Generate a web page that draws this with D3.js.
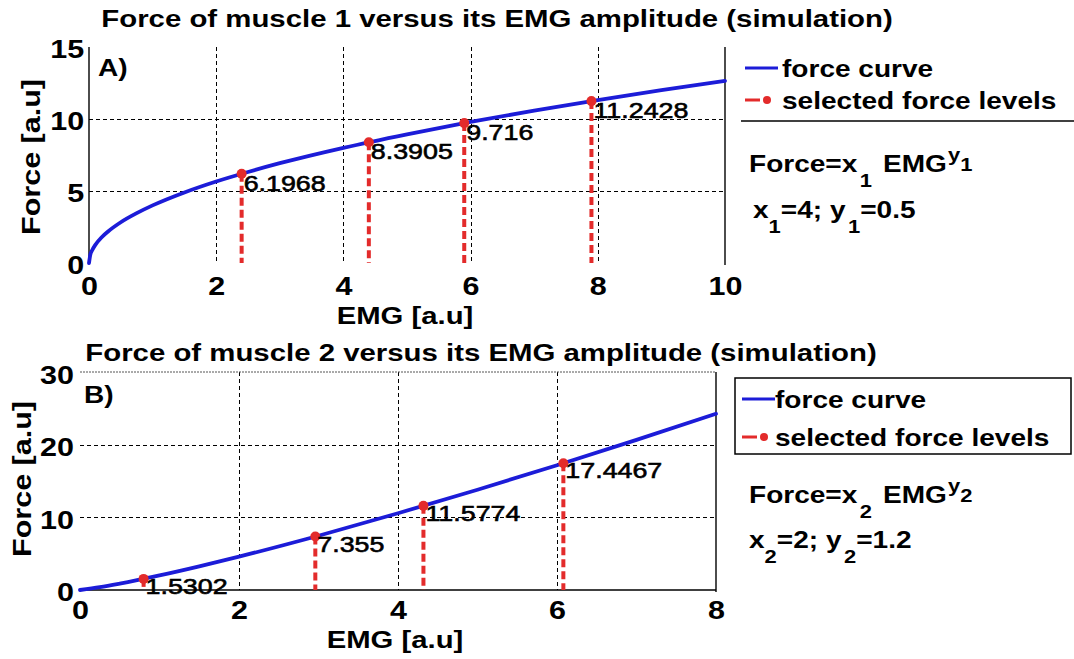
<!DOCTYPE html>
<html><head><meta charset="utf-8">
<script src="https://cdn.jsdelivr.net/npm/d3@7"></script>
<style>
html,body{margin:0;padding:0;background:#fff;}
svg{display:block;font-family:Arial,"Liberation Sans",Helvetica,sans-serif;}
</style></head>
<body>
<svg id="chart" width="1074" height="659"></svg>
<script>
// ---------------- DATA ----------------
// Panel A: muscle 1 (Force = 4 * EMG^0.5)
const emg1 = [0, 0.02, 0.05, 0.1, 0.2, 0.3, 0.5, 0.75, 1, 1.5, 2, 2.5, 3, 4, 5, 6, 7, 8, 9, 10];
const force1 = [0, 0.57, 0.89, 1.26, 1.79, 2.19, 2.83, 3.46, 4.0, 4.9, 5.66, 6.32, 6.93, 8.0, 8.94, 9.8, 10.58, 11.31, 12.0, 12.65];
const selEmg1 = [2.4, 4.4, 5.9, 7.9];
const selForce1 = [6.1968, 8.3905, 9.716, 11.2428];
const selLabels1 = ["6.1968", "8.3905", "9.716", "11.2428"];
const xTicks1 = [0, 2, 4, 6, 8, 10];
const yTicks1 = [0, 5, 10, 15];

// Panel B: muscle 2 (Force = 2 * EMG^1.2)
const emg2 = [0, 0.25, 0.5, 1, 1.5, 2, 3, 4, 5, 6, 7, 8];
const force2 = [0, 0.38, 0.87, 2.0, 3.25, 4.59, 7.47, 10.56, 13.8, 17.17, 20.66, 24.25];
const selEmg2 = [0.8, 2.96, 4.32, 6.08];
const selForce2 = [1.5302, 7.355, 11.5774, 17.4467];
const selLabels2 = ["1.5302", "7.355", "11.5774", "17.4467"];
const xTicks2 = [0, 2, 4, 6, 8];
const yTicks2 = [0, 10, 20, 30];

const titles = ["Force of muscle 1 versus its EMG amplitude (simulation)",
                "Force of muscle 2 versus its EMG amplitude (simulation)"];
const legendLabels = ["force curve", "selected force levels"];

// ---------------- STYLE ----------------
const SX = 1.22;           // horizontal stretch of the reference text
const BLUE = "#1c1cd8", RED = "#e32b2b";
const svg = d3.select("#chart");

function txt(g, x, y, s, o = {}) {
  const t = g.append("text")
    .attr("transform", `translate(${x},${y}) ${o.rot ? "rotate(" + o.rot + ")" : ""} scale(${o.sx || SX},1)`)
    .attr("text-anchor", o.anchor || "start")
    .attr("font-size", o.size || 23)
    .attr("font-weight", o.weight || "bold")
    .attr("fill", "#000")
    .text(s);
  return t;
}

function panel(cfg) {
  const g = svg.append("g");
  const x = d3.scaleLinear().domain(cfg.xDomain).range([cfg.left, cfg.right]);
  const y = d3.scaleLinear().domain(cfg.yDomain).range([cfg.bottom, cfg.top]);

  // grid
  g.selectAll(".vg").data(cfg.xTicks.slice(1, -1)).join("line")
    .attr("x1", d => Math.round(x(d)) + 0.5).attr("x2", d => Math.round(x(d)) + 0.5)
    .attr("y1", cfg.top).attr("y2", cfg.bottom)
    .attr("stroke", "#000").attr("stroke-width", 1).attr("stroke-dasharray", "4,3");
  g.selectAll(".hg").data(cfg.yTicks.slice(1, -1)).join("line")
    .attr("x1", cfg.left).attr("x2", cfg.right)
    .attr("y1", d => Math.round(y(d)) + 0.5).attr("y2", d => Math.round(y(d)) + 0.5)
    .attr("stroke", "#000").attr("stroke-width", 1).attr("stroke-dasharray", "4,3");

  // frame lines
  cfg.frame.forEach(f => {
    const l = g.append("line").attr("stroke", f.color || "#000").attr("stroke-width", f.w || 1.4);
    if (f.side === "left") l.attr("x1", cfg.left).attr("x2", cfg.left).attr("y1", cfg.top).attr("y2", cfg.bottom);
    if (f.side === "right") l.attr("x1", cfg.right).attr("x2", cfg.right).attr("y1", cfg.top).attr("y2", cfg.bottom + 2);
    if (f.side === "bottom") l.attr("x1", cfg.left).attr("x2", cfg.right).attr("y1", cfg.bottom).attr("y2", cfg.bottom);
    if (f.side === "top") l.attr("x1", cfg.left).attr("x2", cfg.right).attr("y1", cfg.top).attr("y2", cfg.top);
    if (f.dash) l.attr("stroke-dasharray", f.dash);
  });

  // axes (labels only)
  const ax = g.append("g").attr("transform", `translate(0,${cfg.bottom})`)
    .call(d3.axisBottom(x).tickValues(cfg.xTicks).tickSize(0).tickPadding(cfg.xPad).tickFormat(d3.format("d")));
  ax.select(".domain").remove();
  ax.selectAll("text").attr("font-size", 25).attr("font-weight", "bold").attr("fill", "#000")
    .attr("font-family", "Arial, 'Liberation Sans', sans-serif")
    .attr("transform", `scale(${SX},1)`);
  const ay = g.append("g").attr("transform", `translate(${cfg.left},0)`)
    .call(d3.axisLeft(y).tickValues(cfg.yTicks).tickSize(0).tickPadding(cfg.yPad).tickFormat(d3.format("d")));
  ay.select(".domain").remove();
  ay.selectAll("text").attr("font-size", 25).attr("font-weight", "bold").attr("fill", "#000")
    .attr("font-family", "Arial, 'Liberation Sans', sans-serif")
    .attr("transform", `translate(0,${cfg.yLabShift}) scale(${SX},1)`);
  ay.selectAll(".tick").filter(d => d === 0).select("text")
    .attr("transform", `translate(0,${cfg.yZeroShift}) scale(${SX},1)`);

  // curve
  const line = d3.line().x((d, i) => x(cfg.emg[i])).y(d => y(d)).curve(d3.curveMonotoneX);
  g.append("path").datum(cfg.force).attr("d", line)
    .attr("fill", "none").attr("stroke", BLUE).attr("stroke-width", 3.8)
    .attr("stroke-linejoin", "round").attr("stroke-linecap", "round");

  // stems
  g.selectAll(".stem").data(cfg.selForce).join("line")
    .attr("x1", (d, i) => x(cfg.selEmg[i])).attr("x2", (d, i) => x(cfg.selEmg[i]))
    .attr("y1", d => y(d)).attr("y2", y(0))
    .attr("stroke", RED).attr("stroke-width", 4).attr("stroke-dasharray", "8,4");
  g.selectAll(".dot").data(cfg.selForce).join("circle")
    .attr("cx", (d, i) => x(cfg.selEmg[i])).attr("cy", d => y(d)).attr("r", 5)
    .attr("fill", RED);
  cfg.selLabels.forEach((s, i) => {
    txt(g, x(cfg.selEmg[i]) + 2, y(cfg.selForce[i]) + cfg.labDy, s, {size: 22, weight: "normal"})
      .attr("stroke", "#000").attr("stroke-width", 0.6);
  });

  // titles and labels
  txt(g, cfg.titleX, cfg.titleY, cfg.title, {anchor: "middle", size: 23.5, sx: 1.25});
  txt(g, cfg.tagX, cfg.tagY, cfg.tag, {size: 23});
  txt(g, cfg.xLabX, cfg.xLabY, "EMG [a.u]", {anchor: "middle", size: 24});
  txt(g, cfg.yLabX, cfg.yLabY, "Force [a.u]", {anchor: "middle", size: 25, rot: -90});

  // legend
  const lg = g.append("g");
  if (cfg.legendBox) {
    lg.append("rect").attr("x", cfg.legendBox[0]).attr("y", cfg.legendBox[1])
      .attr("width", cfg.legendBox[2]).attr("height", cfg.legendBox[3])
      .attr("fill", "#fff").attr("stroke", "#000").attr("stroke-width", 1.5);
  }
  if (cfg.legendRule) {
    lg.append("line").attr("x1", cfg.legendRule[0]).attr("x2", cfg.legendRule[1])
      .attr("y1", cfg.legendRule[2]).attr("y2", cfg.legendRule[2])
      .attr("stroke", "#000").attr("stroke-width", 1.5);
  }
  lg.append("line").attr("x1", cfg.legX).attr("x2", cfg.legX + 33)
    .attr("y1", cfg.legY[0]).attr("y2", cfg.legY[0]).attr("stroke", BLUE).attr("stroke-width", 3);
  lg.append("line").attr("x1", cfg.legX).attr("x2", cfg.legX + 15)
    .attr("y1", cfg.legY[1]).attr("y2", cfg.legY[1]).attr("stroke", RED).attr("stroke-width", 3);
  lg.append("circle").attr("cx", cfg.legX + 22).attr("cy", cfg.legY[1]).attr("r", 4).attr("fill", RED);
  txt(lg, cfg.legTextX, cfg.legY[0] + 9, legendLabels[0], {size: 23});
  txt(lg, cfg.legTextX, cfg.legY[1] + 9, legendLabels[1], {size: 23});

  // formula
  const n = cfg.idx;
  const f1 = g.append("text").attr("font-size", 23).attr("font-weight", "bold")
    .attr("transform", `translate(${cfg.fX},${cfg.fY}) scale(${SX},1)`);
  f1.append("tspan").text("Force=x");
  f1.append("tspan").attr("font-size", 18).attr("dy", 15).attr("dx", 2).text(n);
  f1.append("tspan").attr("dy", -15).attr("dx", 9).text("EMG");
  f1.append("tspan").attr("font-size", 18).attr("dy", -11).attr("dx", 1).text("y");
  f1.append("tspan").attr("font-size", 18).attr("dy", 10).text(n);
  const f2 = g.append("text").attr("font-size", 23).attr("font-weight", "bold")
    .attr("transform", `translate(${cfg.f2X},${cfg.f2Y}) scale(${SX},1)`);
  f2.append("tspan").text("x");
  f2.append("tspan").attr("font-size", 18).attr("dy", 15).text(n);
  f2.append("tspan").attr("dy", -15).text("=" + cfg.coef[0] + "; y");
  f2.append("tspan").attr("font-size", 18).attr("dy", 15).attr("dx", 2).text(n);
  f2.append("tspan").attr("dy", -15).text("=" + cfg.coef[1]);
}

panel({
  idx: "1", xDomain: [0, 10], yDomain: [0, 15],
  left: 89, right: 725, top: 47, bottom: 263,
  xTicks: xTicks1, yTicks: yTicks1, xPad: 14, yPad: 4, yLabShift: 2, yZeroShift: 2,
  emg: emg1, force: force1, selEmg: selEmg1, selForce: selForce1, selLabels: selLabels1, labDy: 17,
  frame: [{side: "left"}, {side: "right"}],
  title: titles[0], titleX: 497, titleY: 27, tag: "A)", tagX: 98, tagY: 76,
  xLabX: 405, xLabY: 324, yLabX: 40, yLabY: 157,
  legendRule: [741, 1074, 121], legX: 745, legY: [68, 100], legTextX: 782,
  fX: 749, fY: 172, f2X: 753, f2Y: 218, coef: ["4", "0.5"]
});

panel({
  idx: "2", xDomain: [0, 8], yDomain: [0, 30],
  left: 80, right: 716, top: 372, bottom: 590,
  xTicks: xTicks2, yTicks: yTicks2, xPad: 11, yPad: 5, yLabShift: 3, yZeroShift: 2,
  emg: emg2, force: force2, selEmg: selEmg2, selForce: selForce2, selLabels: selLabels2, labDy: 15,
  frame: [{side: "bottom"}, {side: "right"}, {side: "top", dash: "2,1", color: "#555", w: 1}],
  title: titles[1], titleX: 481, titleY: 361, tag: "B)", tagX: 84, tagY: 403,
  xLabX: 395, xLabY: 648, yLabX: 31, yLabY: 479,
  legendBox: [735, 378, 336, 76], legX: 742, legY: [399, 437], legTextX: 775,
  fX: 749, fY: 503, f2X: 749, f2Y: 548, coef: ["2", "1.2"]
});
</script>
</body></html>
